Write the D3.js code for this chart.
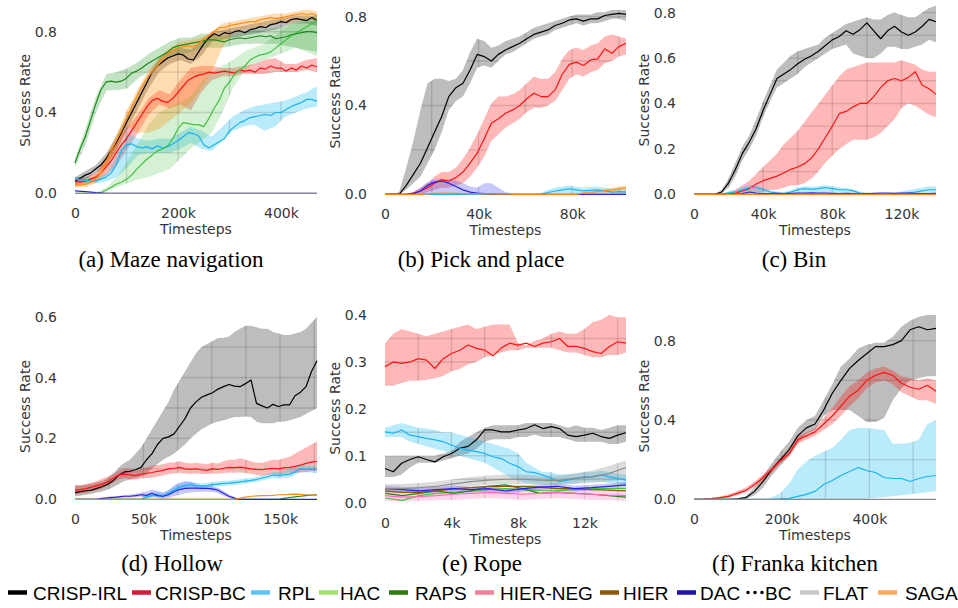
<!DOCTYPE html>
<html>
<head>
<meta charset="utf-8">
<script src="https://cdn.jsdelivr.net/npm/d3@7"></script>
<style>
  body { margin: 0; background: #fff; }
  svg { display: block; }
</style>
</head>
<body>
<svg id="fig" width="958" height="608"></svg>
<script>
// ---- methods ----
const methods = ["CRISP-IRL", "CRISP-BC", "RPL", "HAC", "RAPS", "HIER-NEG", "HIER", "DAC", "BC", "FLAT", "SAGA"];

// ---- tick labels (thousands of timesteps / success rate) ----
const mazeXTicks = [0, 200, 400];
const mazeYTicks = [0, 0.4, 0.8];
const pickXTicks = [0, 40, 80];
const pickYTicks = [0, 0.4, 0.8];
const binXTicks = [0, 40, 80, 120];
const binYTicks = [0, 0.2, 0.4, 0.6, 0.8];
const hollowXTicks = [0, 50, 100, 150];
const hollowYTicks = [0, 0.2, 0.4, 0.6];
const ropeXTicks = [0, 4, 8, 12];
const ropeYTicks = [0, 0.1, 0.2, 0.3, 0.4];
const kitchenXTicks = [0, 200, 400];
const kitchenYTicks = [0, 0.4, 0.8];

// Each series is sampled evenly from 0 to the last timestep of its panel.
// ---- (a) Maze navigation, 0..470k ----
const mazeIrlMean = [0.06,0.075,0.09,0.10,0.12,0.14,0.17,0.21,0.25,0.30,0.35,0.40,0.45,0.50,0.55,0.60,0.63,0.65,0.67,0.68,0.69,0.685,0.665,0.66,0.70,0.74,0.77,0.79,0.78,0.795,0.79,0.80,0.805,0.795,0.81,0.815,0.825,0.82,0.835,0.84,0.85,0.845,0.86,0.865,0.86,0.855,0.87,0.855];
const mazeIrlLow = [0.04,0.07,0.10,0.14,0.22,0.32,0.42,0.52,0.60,0.64,0.66,0.64,0.68,0.75,0.76,0.77,0.78,0.79,0.80,0.81,0.83,0.84,0.84,0.83];
const mazeIrlHigh = [0.08,0.11,0.14,0.20,0.29,0.39,0.49,0.59,0.67,0.71,0.72,0.71,0.75,0.80,0.81,0.82,0.83,0.84,0.85,0.86,0.87,0.88,0.88,0.88];
const mazeBcMean = [0.06,0.055,0.06,0.07,0.08,0.10,0.13,0.16,0.20,0.24,0.27,0.31,0.35,0.39,0.43,0.46,0.47,0.455,0.45,0.47,0.50,0.53,0.56,0.575,0.585,0.59,0.60,0.595,0.60,0.605,0.60,0.595,0.61,0.605,0.61,0.60,0.62,0.615,0.63,0.62,0.62,0.605,0.62,0.61,0.63,0.62,0.635,0.625];
const mazeBcLow = [0.04,0.04,0.06,0.09,0.14,0.22,0.30,0.39,0.44,0.42,0.44,0.41,0.50,0.56,0.58,0.58,0.59,0.59,0.59,0.60,0.60,0.60,0.61,0.60];
const mazeBcHigh = [0.08,0.08,0.10,0.18,0.27,0.33,0.39,0.47,0.51,0.49,0.56,0.62,0.63,0.63,0.62,0.62,0.63,0.64,0.66,0.67,0.64,0.64,0.66,0.67];
const mazeRplMean = [0.07,0.068,0.065,0.06,0.06,0.07,0.08,0.10,0.14,0.21,0.24,0.245,0.23,0.225,0.23,0.22,0.235,0.225,0.23,0.245,0.26,0.28,0.30,0.295,0.285,0.24,0.225,0.24,0.255,0.27,0.31,0.33,0.35,0.36,0.375,0.38,0.385,0.39,0.385,0.40,0.40,0.415,0.43,0.44,0.45,0.465,0.465,0.455];
const mazeRplLow = [0.06,0.05,0.05,0.06,0.08,0.13,0.19,0.20,0.20,0.20,0.22,0.25,0.22,0.21,0.26,0.31,0.33,0.34,0.31,0.33,0.38,0.40,0.42,0.43];
const mazeRplHigh = [0.08,0.08,0.08,0.10,0.19,0.30,0.27,0.26,0.27,0.27,0.30,0.33,0.31,0.28,0.33,0.38,0.41,0.43,0.44,0.45,0.46,0.48,0.50,0.53];
const mazeHacMean = [0,0,0,0,0,0.003,0.015,0.03,0.045,0.055,0.07,0.09,0.12,0.145,0.17,0.19,0.21,0.22,0.235,0.27,0.32,0.35,0.345,0.34,0.34,0.33,0.37,0.42,0.46,0.52,0.55,0.59,0.61,0.63,0.66,0.675,0.685,0.69,0.70,0.72,0.74,0.76,0.78,0.795,0.81,0.825,0.84,0.855];
const mazeHacLow = [0,0,0,0.01,0.03,0.05,0.07,0.08,0.10,0.12,0.17,0.22,0.26,0.30,0.40,0.52,0.60,0.64,0.66,0.68,0.70,0.72,0.70,0.68];
const mazeHacHigh = [0,0,0.005,0.03,0.08,0.16,0.25,0.34,0.40,0.43,0.45,0.48,0.55,0.60,0.63,0.66,0.70,0.72,0.74,0.78,0.82,0.85,0.87,0.88];
const mazeRapsMean = [0.15,0.22,0.28,0.36,0.44,0.51,0.55,0.555,0.55,0.555,0.57,0.595,0.605,0.62,0.64,0.655,0.67,0.685,0.70,0.72,0.73,0.735,0.74,0.745,0.75,0.755,0.76,0.76,0.755,0.75,0.76,0.765,0.77,0.765,0.77,0.775,0.78,0.775,0.78,0.765,0.77,0.775,0.785,0.79,0.795,0.80,0.80,0.795];
const mazeRapsLow = [0.13,0.24,0.40,0.51,0.51,0.52,0.57,0.60,0.64,0.67,0.69,0.70,0.72,0.72,0.72,0.73,0.74,0.74,0.74,0.74,0.73,0.72,0.71,0.70];
const mazeRapsHigh = [0.17,0.32,0.48,0.59,0.60,0.62,0.65,0.69,0.72,0.75,0.77,0.77,0.79,0.79,0.78,0.79,0.80,0.81,0.81,0.82,0.83,0.84,0.85,0.85];
const mazeDacMean = [0.012,0.008,0.003,0,0,0,0,0,0,0,0,0,0,0,0,0,0,0,0,0,0,0,0,0];
const mazeFlatMean = [0, 0];
const mazeSagaMean = [0.04,0.04,0.045,0.055,0.07,0.10,0.15,0.21,0.26,0.31,0.37,0.43,0.48,0.53,0.57,0.60,0.63,0.665,0.69,0.705,0.72,0.725,0.73,0.725,0.74,0.765,0.78,0.80,0.82,0.82,0.83,0.835,0.84,0.845,0.85,0.85,0.86,0.865,0.87,0.865,0.87,0.875,0.88,0.885,0.89,0.885,0.89,0.88];
const mazeSagaLow = [0.03,0.03,0.05,0.12,0.22,0.33,0.30,0.30,0.32,0.36,0.40,0.45,0.52,0.60,0.72,0.79,0.81,0.82,0.83,0.84,0.84,0.85,0.86,0.85];
const mazeSagaHigh = [0.05,0.06,0.09,0.19,0.30,0.42,0.52,0.61,0.67,0.72,0.75,0.76,0.77,0.80,0.84,0.85,0.86,0.87,0.88,0.89,0.89,0.90,0.91,0.90];

// ---- (b) Pick and place, 0..103k ----
const pickIrlMean = [0,0,0,0.04,0.09,0.14,0.21,0.28,0.35,0.44,0.48,0.50,0.56,0.63,0.62,0.60,0.63,0.65,0.665,0.68,0.70,0.72,0.73,0.74,0.76,0.77,0.785,0.79,0.78,0.79,0.79,0.805,0.81,0.815,0.81];
const pickIrlLow = [0,0,0,0.02,0.05,0.08,0.14,0.20,0.28,0.38,0.42,0.44,0.50,0.57,0.58,0.57,0.60,0.63,0.64,0.66,0.68,0.70,0.71,0.72,0.74,0.75,0.76,0.77,0.76,0.77,0.77,0.78,0.79,0.79,0.78];
const pickIrlHigh = [0,0,0.01,0.12,0.24,0.38,0.50,0.52,0.52,0.51,0.52,0.56,0.64,0.70,0.69,0.66,0.67,0.69,0.70,0.71,0.73,0.75,0.76,0.77,0.78,0.79,0.80,0.81,0.81,0.81,0.82,0.82,0.83,0.83,0.83];
const pickBcMean = [0,0,0,0,0.005,0.015,0.03,0.05,0.065,0.06,0.075,0.10,0.14,0.185,0.25,0.32,0.34,0.365,0.38,0.40,0.43,0.455,0.44,0.44,0.47,0.54,0.585,0.595,0.58,0.605,0.61,0.655,0.635,0.665,0.68];
const pickBcLow = [0,0,0,0,0,0,0.01,0.02,0.03,0.03,0.04,0.05,0.08,0.12,0.17,0.24,0.27,0.30,0.32,0.34,0.37,0.39,0.39,0.40,0.42,0.47,0.52,0.54,0.53,0.55,0.56,0.59,0.60,0.62,0.63];
const pickBcHigh = [0,0,0,0,0.01,0.03,0.05,0.08,0.10,0.10,0.12,0.16,0.21,0.27,0.34,0.41,0.44,0.44,0.45,0.47,0.50,0.53,0.52,0.52,0.55,0.61,0.65,0.66,0.65,0.67,0.68,0.71,0.72,0.71,0.70];
const pickRplMean = [0,0,0,0,0,0,0,0,0,0,0,0,0,0,0,0,0,0,0,0,0,0,0,0.008,0.015,0.02,0.025,0.02,0.015,0.018,0.02,0.015,0.01,0.012,0.01];
const pickRplHigh = [0,0,0,0,0,0,0,0,0,0,0,0,0,0,0,0,0,0,0,0,0,0,0.005,0.02,0.03,0.035,0.04,0.035,0.03,0.033,0.035,0.03,0.025,0.027,0.025];
const pickDacMean = [0,0,0,0,0.003,0.015,0.04,0.055,0.06,0.05,0.035,0.02,0.01,0.005,0.003,0.002,0.001,0,0,0,0,0,0,0,0,0,0,0,0,0,0,0,0,0,0];
const pickDacHigh = [0,0,0,0,0.01,0.03,0.055,0.065,0.07,0.068,0.062,0.05,0.035,0.03,0.05,0.05,0.03,0.01,0.004,0,0,0,0,0,0,0,0,0,0,0,0,0,0,0,0];
const pickSagaMean = [0,0,0,0,0,0,0.002,0.004,0.005,0.005,0.004,0.003,0.003,0.002,0.002,0.002,0.001,0.001,0,0,0,0,0,0,0,0,0,0,0.005,0.008,0.012,0.016,0.02,0.025,0.03];
const pickSagaHigh = [0,0,0,0,0,0,0,0,0,0,0,0,0,0,0,0,0,0,0,0,0,0,0,0,0,0,0,0.004,0.01,0.015,0.02,0.025,0.03,0.035,0.04];

// ---- (c) Bin, 0..140k ----
const binIrlMean = [0,0,0,0,0.01,0.05,0.11,0.18,0.23,0.29,0.37,0.44,0.51,0.53,0.55,0.575,0.595,0.61,0.63,0.655,0.68,0.695,0.72,0.705,0.725,0.755,0.72,0.685,0.72,0.74,0.715,0.70,0.715,0.74,0.77,0.76];
const binIrlLow = [0,0,0,0,0.005,0.03,0.08,0.15,0.20,0.26,0.34,0.41,0.47,0.49,0.51,0.53,0.56,0.58,0.60,0.62,0.64,0.65,0.66,0.62,0.61,0.60,0.60,0.62,0.65,0.65,0.64,0.64,0.65,0.66,0.68,0.67];
const binIrlHigh = [0,0,0,0,0.02,0.07,0.14,0.21,0.26,0.33,0.41,0.48,0.55,0.58,0.61,0.63,0.64,0.65,0.66,0.69,0.71,0.73,0.75,0.76,0.77,0.78,0.77,0.77,0.79,0.80,0.79,0.78,0.78,0.80,0.82,0.83];
const binBcMean = [0,0,0,0,0,0.002,0.005,0.015,0.025,0.045,0.06,0.07,0.08,0.095,0.11,0.12,0.135,0.16,0.20,0.25,0.30,0.355,0.365,0.385,0.40,0.40,0.43,0.47,0.50,0.51,0.50,0.515,0.54,0.48,0.465,0.44];
const binBcLow = [0,0,0,0,0,0,0,0,0,0.01,0.01,0.02,0.02,0.03,0.04,0.04,0.05,0.07,0.10,0.14,0.17,0.20,0.22,0.24,0.24,0.24,0.25,0.27,0.30,0.33,0.38,0.40,0.39,0.37,0.35,0.34];
const binBcHigh = [0,0,0,0,0,0.01,0.02,0.04,0.06,0.09,0.12,0.15,0.18,0.22,0.25,0.28,0.32,0.36,0.40,0.44,0.48,0.52,0.55,0.56,0.57,0.58,0.58,0.58,0.58,0.58,0.59,0.58,0.57,0.55,0.54,0.54];
const binRplMean = [0,0,0,0,0,0.005,0.01,0.02,0.03,0.03,0.02,0.01,0.005,0.003,0.01,0.02,0.025,0.022,0.025,0.03,0.025,0.02,0.02,0.015,0.005,0.002,0,0,0,0,0.002,0.005,0.01,0.015,0.02,0.02];
const binRplHigh = [0,0,0,0,0.005,0.012,0.02,0.032,0.042,0.04,0.03,0.02,0.012,0.01,0.018,0.03,0.035,0.033,0.035,0.04,0.035,0.03,0.028,0.022,0.012,0.008,0.005,0.004,0.005,0.008,0.012,0.018,0.024,0.03,0.035,0.035];
const binDacMean = [0,0,0,0,0,0,0,0.003,0.01,0.005,0.003,0.003,0.004,0.003,0.004,0.005,0.005,0.006,0.005,0.005,0.004,0.003,0.004,0.003,0.002,0.003,0.004,0.005,0.005,0.004,0.005,0.005,0.004,0.003,0.003,0.004];
const binSagaMean = [0, 0];

// ---- (d) Hollow, 0..177k ----
const hollowIrlMean = [0.022,0.025,0.028,0.03,0.036,0.042,0.05,0.062,0.08,0.09,0.092,0.097,0.105,0.13,0.15,0.18,0.20,0.205,0.215,0.24,0.265,0.30,0.32,0.335,0.343,0.35,0.362,0.37,0.377,0.372,0.37,0.38,0.392,0.315,0.307,0.30,0.312,0.305,0.31,0.31,0.34,0.352,0.37,0.42,0.455];
const hollowIrlLow = [0.01,0.012,0.015,0.018,0.022,0.026,0.032,0.04,0.05,0.06,0.065,0.07,0.075,0.085,0.10,0.115,0.13,0.14,0.15,0.165,0.18,0.20,0.215,0.23,0.24,0.25,0.255,0.26,0.265,0.27,0.27,0.272,0.27,0.255,0.25,0.25,0.25,0.255,0.255,0.26,0.265,0.27,0.28,0.29,0.30];
const hollowIrlHigh = [0.045,0.045,0.048,0.05,0.055,0.06,0.07,0.085,0.105,0.12,0.13,0.15,0.17,0.20,0.23,0.26,0.29,0.32,0.36,0.39,0.42,0.45,0.48,0.50,0.51,0.52,0.53,0.53,0.535,0.55,0.56,0.57,0.57,0.565,0.56,0.56,0.55,0.545,0.54,0.54,0.545,0.55,0.56,0.58,0.60];
const hollowBcMean = [0.03,0.032,0.035,0.04,0.045,0.05,0.058,0.07,0.08,0.083,0.08,0.078,0.082,0.085,0.088,0.092,0.095,0.10,0.102,0.105,0.10,0.098,0.10,0.097,0.095,0.10,0.098,0.102,0.105,0.104,0.106,0.103,0.10,0.098,0.097,0.10,0.102,0.10,0.104,0.105,0.108,0.112,0.118,0.122,0.125];
const hollowBcLow = [0.015,0.018,0.02,0.025,0.03,0.035,0.045,0.055,0.065,0.07,0.065,0.065,0.068,0.07,0.072,0.075,0.078,0.082,0.085,0.087,0.085,0.083,0.085,0.083,0.082,0.085,0.084,0.086,0.088,0.087,0.088,0.086,0.084,0.08,0.078,0.08,0.082,0.08,0.083,0.085,0.086,0.088,0.09,0.092,0.095];
const hollowBcHigh = [0.045,0.046,0.05,0.055,0.06,0.068,0.075,0.085,0.095,0.10,0.10,0.095,0.10,0.105,0.11,0.112,0.115,0.12,0.122,0.125,0.12,0.118,0.12,0.118,0.115,0.12,0.118,0.125,0.13,0.13,0.135,0.13,0.125,0.12,0.12,0.125,0.13,0.13,0.135,0.14,0.15,0.16,0.17,0.18,0.19];
const hollowRplMean = [0,0,0,0,0,0,0,0,0,0,0,0,0,0.008,0.012,0.015,0.01,0.02,0.03,0.04,0.045,0.048,0.045,0.043,0.045,0.048,0.05,0.052,0.053,0.055,0.057,0.06,0.062,0.065,0.07,0.074,0.08,0.078,0.08,0.082,0.09,0.10,0.098,0.10,0.097];
const hollowRplLow = [0,0,0,0,0,0,0,0,0,0,0,0,0,0.002,0.005,0.008,0.005,0.012,0.022,0.032,0.038,0.04,0.038,0.036,0.038,0.04,0.042,0.044,0.045,0.047,0.049,0.052,0.054,0.057,0.062,0.066,0.07,0.068,0.07,0.072,0.08,0.09,0.088,0.088,0.085];
const hollowRplHigh = [0,0,0,0,0,0,0,0,0,0,0,0,0,0.014,0.02,0.024,0.02,0.03,0.04,0.05,0.055,0.058,0.055,0.052,0.054,0.057,0.059,0.061,0.062,0.064,0.066,0.068,0.07,0.073,0.078,0.083,0.09,0.09,0.095,0.10,0.108,0.115,0.11,0.11,0.108];
const hollowDacMean = [0,0,0,0,0.001,0.003,0.005,0.006,0.008,0.01,0.01,0.012,0.015,0.013,0.02,0.012,0.01,0.015,0.025,0.032,0.036,0.037,0.037,0.036,0.036,0.034,0.03,0.02,0.01,0.004,0,0,0,0,0,0,0,0,0,0,0,0,0,0,0];
const hollowDacLow = [0,0,0,0,0,0,0.002,0.003,0.004,0.006,0.006,0.007,0.008,0.004,0.008,0.004,0.002,0.004,0.01,0.015,0.02,0.022,0.024,0.025,0.026,0.025,0.02,0.012,0.004,0,0,0,0,0,0,0,0,0,0,0,0,0,0,0,0];
const hollowDacHigh = [0,0,0,0,0.002,0.005,0.008,0.01,0.012,0.014,0.015,0.018,0.022,0.025,0.032,0.028,0.022,0.03,0.045,0.055,0.06,0.058,0.05,0.045,0.045,0.042,0.038,0.028,0.016,0.008,0,0,0,0,0,0,0,0,0,0,0,0,0,0,0];
const hollowRapsMean = [0,0,0,0,0,0,0,0,0,0,0,0,0,0,0,0,0,0,0,0,0,0,0,0,0,0,0,0,0,0,0,0,0,0,0,0,0,0,0.003,0.006,0.008,0.01,0.012,0.014,0.015];
const hollowSagaMean = [0,0,0,0,0,0,0,0,0,0,0,0,0,0,0,0,0,0,0,0,0,0,0,0,0,0,0,0,0,0,0.004,0.007,0.01,0.011,0.012,0.012,0.013,0.015,0.015,0.016,0.017,0.016,0.015,0.014,0.014];

// ---- (e) Rope, 0..14.5k ----
const ropeIrlMean = [0.073,0.066,0.084,0.092,0.098,0.092,0.087,0.098,0.105,0.116,0.12,0.134,0.155,0.155,0.151,0.151,0.155,0.158,0.166,0.158,0.162,0.158,0.144,0.141,0.144,0.148,0.141,0.137,0.144,0.149];
const ropeIrlLow = [0.055,0.055,0.06,0.075,0.085,0.085,0.085,0.09,0.095,0.10,0.105,0.115,0.13,0.135,0.135,0.135,0.14,0.14,0.145,0.14,0.14,0.14,0.135,0.13,0.13,0.13,0.13,0.125,0.125,0.13];
const ropeIrlHigh = [0.10,0.10,0.10,0.10,0.10,0.10,0.10,0.105,0.11,0.13,0.14,0.15,0.16,0.165,0.165,0.165,0.165,0.17,0.17,0.17,0.17,0.165,0.16,0.165,0.16,0.16,0.155,0.16,0.165,0.165];
const ropeBcMean = [0.29,0.30,0.297,0.30,0.307,0.304,0.286,0.307,0.318,0.325,0.336,0.329,0.325,0.313,0.33,0.34,0.336,0.34,0.333,0.34,0.343,0.35,0.333,0.333,0.329,0.322,0.318,0.333,0.343,0.34];
const ropeBcLow = [0.25,0.25,0.255,0.26,0.26,0.262,0.265,0.27,0.28,0.285,0.295,0.30,0.31,0.315,0.32,0.325,0.325,0.33,0.33,0.33,0.33,0.325,0.32,0.32,0.315,0.31,0.31,0.315,0.315,0.32];
const ropeBcHigh = [0.34,0.36,0.37,0.365,0.36,0.355,0.36,0.365,0.37,0.375,0.38,0.37,0.375,0.38,0.38,0.38,0.34,0.335,0.345,0.35,0.36,0.365,0.36,0.36,0.37,0.385,0.39,0.40,0.395,0.395];
const ropeRplMean = [0.151,0.148,0.155,0.144,0.141,0.137,0.134,0.13,0.123,0.116,0.112,0.109,0.105,0.098,0.094,0.084,0.077,0.066,0.064,0.059,0.052,0.045,0.048,0.052,0.055,0.055,0.059,0.055,0.052,0.048];
const ropeRplLow = [0.14,0.14,0.14,0.13,0.125,0.12,0.115,0.11,0.105,0.10,0.095,0.09,0.085,0.075,0.065,0.055,0.048,0.042,0.04,0.04,0.04,0.04,0.04,0.042,0.045,0.045,0.045,0.042,0.04,0.04];
const ropeRplHigh = [0.16,0.165,0.17,0.165,0.16,0.158,0.155,0.15,0.15,0.145,0.14,0.135,0.13,0.125,0.12,0.115,0.105,0.085,0.075,0.065,0.065,0.06,0.06,0.062,0.065,0.065,0.068,0.065,0.062,0.06];
const ropeHacMean = [0.01,0.005,0.015,0.02,0.022,0.025,0.028,0.03,0.028,0.026,0.025,0.028,0.03,0.03,0.03];
const ropeRapsMean = [0.02,0.015,0.02,0.025,0.02,0.025,0.035,0.038,0.03,0.02,0.022,0.02,0.018,0.015,0.012];
const ropeHierNegMean = [0.015,0.012,0.013,0.015,0.018,0.02,0.022,0.02,0.018,0.02,0.022,0.02,0.018,0.016,0.015];
const ropeHierNegLow = [0.004,0.003,0.004,0.005,0.006,0.008,0.01,0.008,0.006,0.008,0.01,0.008,0.006,0.005,0.004];
const ropeHierNegHigh = [0.026,0.024,0.025,0.027,0.03,0.032,0.034,0.032,0.03,0.032,0.034,0.032,0.03,0.028,0.026];
const ropeHierMean = [0.025,0.022,0.022,0.025,0.03,0.032,0.035,0.035,0.035,0.033,0.03,0.03,0.028,0.027,0.025];
const ropeDacMean = [0.03,0.028,0.025,0.028,0.03,0.028,0.03,0.025,0.03,0.033,0.035,0.03,0.032,0.035,0.038];
const ropeDacLow = [0.024,0.022,0.019,0.022,0.024,0.022,0.024,0.019,0.024,0.027,0.029,0.024,0.026,0.029,0.032];
const ropeDacHigh = [0.036,0.034,0.031,0.034,0.036,0.034,0.036,0.031,0.036,0.039,0.041,0.036,0.038,0.041,0.044];
const ropeFlatMean = [0.03,0.03,0.032,0.035,0.04,0.045,0.048,0.05,0.05,0.048,0.047,0.052,0.055,0.062,0.075];
const ropeFlatLow = [0.02,0.02,0.022,0.025,0.03,0.035,0.038,0.04,0.04,0.038,0.037,0.04,0.042,0.045,0.05];
const ropeFlatHigh = [0.04,0.04,0.042,0.045,0.05,0.055,0.058,0.06,0.06,0.058,0.058,0.062,0.068,0.078,0.09];

// ---- (f) Franka kitchen, 0..552k ----
const kitchenIrlMean = [0,0,0,0,0,0.002,0.008,0.04,0.09,0.15,0.20,0.25,0.32,0.36,0.38,0.45,0.535,0.60,0.66,0.70,0.735,0.77,0.77,0.78,0.80,0.855,0.87,0.855,0.862];
const kitchenIrlLow = [0,0,0,0,0,0,0.003,0.02,0.06,0.12,0.17,0.22,0.28,0.33,0.35,0.42,0.45,0.45,0.45,0.42,0.39,0.39,0.41,0.50,0.56,0.60,0.61,0.62,0.62];
const kitchenIrlHigh = [0,0,0,0,0,0.004,0.015,0.06,0.12,0.18,0.24,0.29,0.36,0.40,0.42,0.50,0.58,0.67,0.71,0.76,0.78,0.79,0.79,0.82,0.87,0.90,0.92,0.93,0.93];
const kitchenBcMean = [0,0.001,0.003,0.008,0.015,0.03,0.045,0.075,0.11,0.15,0.195,0.23,0.30,0.32,0.34,0.38,0.42,0.47,0.52,0.55,0.60,0.625,0.64,0.625,0.585,0.565,0.555,0.575,0.545];
const kitchenBcLow = [0,0,0,0.002,0.008,0.02,0.035,0.06,0.095,0.135,0.18,0.215,0.28,0.30,0.32,0.35,0.38,0.42,0.47,0.51,0.56,0.59,0.60,0.58,0.54,0.52,0.50,0.50,0.48];
const kitchenBcHigh = [0,0.002,0.006,0.014,0.025,0.04,0.06,0.09,0.125,0.165,0.21,0.245,0.32,0.34,0.36,0.41,0.46,0.52,0.57,0.60,0.64,0.66,0.67,0.65,0.62,0.61,0.60,0.61,0.60];
const kitchenRplMean = [0,0,0,0,0,0,0,0,0,0,0.002,0.005,0.015,0.025,0.04,0.075,0.095,0.12,0.14,0.16,0.145,0.135,0.11,0.105,0.105,0.09,0.105,0.115,0.12];
const kitchenRplLow = [0,0,0,0,0,0,0,0,0,0,0,0,0,0,0,0,0,0,0,0,0.003,0.008,0.012,0.015,0.02,0.025,0.03,0.035,0.04];
const kitchenRplHigh = [0,0,0,0,0,0,0,0,0,0.01,0.03,0.08,0.15,0.19,0.22,0.24,0.26,0.30,0.35,0.36,0.36,0.355,0.35,0.28,0.28,0.285,0.30,0.38,0.40];
const kitchenFlatMean = [0, 0];

// ---- styles ----
const lineColors = ["#000000", "#ff1414", "#18b4f2", "#3fc23f", "#1a8a1a", "#ff6eb4", "#8b5a00", "#2323e6", "#000000", "#8c8c8c", "#ff8c14"];
const bandColors = ["rgba(0,0,0,0.26)", "rgba(255,0,0,0.28)", "rgba(0,180,240,0.27)", "rgba(60,190,60,0.22)", "rgba(20,140,20,0.25)",
                    "rgba(255,105,180,0.28)", "rgba(139,90,0,0.25)", "rgba(50,50,235,0.27)", "rgba(0,0,0,0.2)", "rgba(128,128,128,0.28)", "rgba(255,140,0,0.3)"];
const legendColors = ["#000000", "#d7193a", "#5ec4f4", "#a4e070", "#2e7a10", "#f0819a", "#8a5a0c", "#1f10b0", "#000000", "#c8c8c8", "#fbaa5e"];

const S = (m, mean, low, high) => ({ m, mean, low, high });

const panels = [
  { caption: "(a) Maze navigation", capX: 171, capY: 266.7, x0: 75, x1: 317, yb: 193.3, ppu: 202, xmax: 470, ymax: 0.92,
    xTicks: mazeXTicks, yTicks: mazeYTicks, xGrid: 100, yGrid: 0.2,
    series: [S(0, mazeIrlMean, mazeIrlLow, mazeIrlHigh), S(1, mazeBcMean, mazeBcLow, mazeBcHigh), S(2, mazeRplMean, mazeRplLow, mazeRplHigh),
             S(3, mazeHacMean, mazeHacLow, mazeHacHigh), S(4, mazeRapsMean, mazeRapsLow, mazeRapsHigh), S(7, mazeDacMean),
             S(9, mazeFlatMean), S(10, mazeSagaMean, mazeSagaLow, mazeSagaHigh)] },
  { caption: "(b) Pick and place", capX: 481, capY: 266.7, x0: 385, x1: 626, yb: 194.3, ppu: 222.1, xmax: 103, ymax: 0.83,
    xTicks: pickXTicks, yTicks: pickYTicks, xGrid: 20, yGrid: 0.2,
    series: [S(0, pickIrlMean, pickIrlLow, pickIrlHigh), S(1, pickBcMean, pickBcLow, pickBcHigh), S(2, pickRplMean, [0, 0], pickRplHigh),
             S(7, pickDacMean, [0, 0], pickDacHigh), S(10, pickSagaMean, [0, 0], pickSagaHigh)] },
  { caption: "(c) Bin", capX: 794, capY: 266.7, x0: 694, x1: 936, yb: 194.3, ppu: 227.1, xmax: 140, ymax: 0.83,
    xTicks: binXTicks, yTicks: binYTicks, xGrid: 20, yGrid: 0.1,
    series: [S(0, binIrlMean, binIrlLow, binIrlHigh), S(1, binBcMean, binBcLow, binBcHigh), S(2, binRplMean, [0, 0], binRplHigh),
             S(7, binDacMean), S(10, binSagaMean)] },
  { caption: "(d) Hollow", capX: 172, capY: 571, x0: 75, x1: 317, yb: 499.3, ppu: 304.4, xmax: 177, ymax: 0.61,
    xTicks: hollowXTicks, yTicks: hollowYTicks, xGrid: 25, yGrid: 0.1,
    series: [S(0, hollowIrlMean, hollowIrlLow, hollowIrlHigh), S(1, hollowBcMean, hollowBcLow, hollowBcHigh),
             S(2, hollowRplMean, hollowRplLow, hollowRplHigh), S(4, hollowRapsMean), S(7, hollowDacMean, hollowDacLow, hollowDacHigh),
             S(10, hollowSagaMean)] },
  { caption: "(e) Rope", capX: 482, capY: 571, x0: 385, x1: 626, yb: 502.7, ppu: 469.2, xmax: 14.5, ymax: 0.402,
    xTicks: ropeXTicks, yTicks: ropeYTicks, xGrid: 2, yGrid: 0.05,
    series: [S(0, ropeIrlMean, ropeIrlLow, ropeIrlHigh), S(1, ropeBcMean, ropeBcLow, ropeBcHigh), S(2, ropeRplMean, ropeRplLow, ropeRplHigh),
             S(3, ropeHacMean), S(4, ropeRapsMean), S(5, ropeHierNegMean, ropeHierNegLow, ropeHierNegHigh), S(6, ropeHierMean),
             S(7, ropeDacMean, ropeDacLow, ropeDacHigh), S(9, ropeFlatMean, ropeFlatLow, ropeFlatHigh)] },
  { caption: "(f) Franka kitchen", capX: 795, capY: 571, x0: 694, x1: 936, yb: 499.3, ppu: 198.3, xmax: 552, ymax: 0.94,
    xTicks: kitchenXTicks, yTicks: kitchenYTicks, xGrid: 100, yGrid: 0.2,
    series: [S(0, kitchenIrlMean, kitchenIrlLow, kitchenIrlHigh), S(1, kitchenBcMean, kitchenBcLow, kitchenBcHigh),
             S(2, kitchenRplMean, kitchenRplLow, kitchenRplHigh), S(9, kitchenFlatMean)] }
];

const svg = d3.select("#fig");
const defs = svg.append("defs");
const tickFont = "'DejaVu Sans', sans-serif";

panels.forEach((p, pi) => {
  const x = d3.scaleLinear().domain([0, p.xmax]).range([p.x0, p.x1]);
  const y = d3.scaleLinear().domain([0, p.ymax]).range([p.yb, p.yb - p.ymax * p.ppu]);
  const pts = arr => arr.map((v, i) => [x(i * p.xmax / (arr.length - 1)), y(v)]);
  const line = d3.line();
  const bandPath = s => line(pts(s.high).concat(pts(s.low).reverse())) + "Z";
  const banded = p.series.filter(s => s.low && s.high);

  const g = svg.append("g").attr("class", "panel");

  // confidence bands
  g.append("g").selectAll("path").data(banded).join("path")
    .attr("d", bandPath).attr("fill", s => bandColors[s.m]).attr("stroke", "none");

  // grid lines, only visible where a band is drawn
  const clipId = "bands" + pi;
  defs.append("clipPath").attr("id", clipId)
    .selectAll("path").data(banded).join("path").attr("d", bandPath);
  const grid = g.append("g").attr("clip-path", `url(#${clipId})`)
    .attr("stroke", "rgba(0,0,0,0.13)").attr("stroke-width", 1.4);
  const gx = d3.range(p.xGrid, p.xmax, p.xGrid);
  const gy = d3.range(p.yGrid, p.ymax, p.yGrid);
  grid.selectAll("line.v").data(gx).join("line").attr("class", "v")
    .attr("x1", d => x(d)).attr("x2", d => x(d)).attr("y1", y(0)).attr("y2", y(p.ymax));
  grid.selectAll("line.h").data(gy).join("line").attr("class", "h")
    .attr("x1", p.x0).attr("x2", p.x1).attr("y1", d => y(d)).attr("y2", d => y(d));

  // mean curves
  g.append("g").selectAll("path").data(p.series).join("path")
    .attr("d", s => line(pts(s.mean))).attr("fill", "none")
    .attr("stroke", s => lineColors[s.m]).attr("stroke-width", 1.2).attr("stroke-linejoin", "round");

  // axes
  const xAxis = d3.axisBottom(x).tickValues(p.xTicks).tickSize(0).tickPadding(15)
    .tickFormat(d => d === 0 ? "0" : d + "k");
  const yAxis = d3.axisLeft(y).tickValues(p.yTicks).tickSize(0).tickPadding(18)
    .tickFormat(d3.format(".1f"));
  const ax = g.append("g").attr("transform", `translate(0,${p.yb})`).call(xAxis);
  const ay = g.append("g").attr("transform", `translate(${p.x0},0)`).call(yAxis);
  [ax, ay].forEach(a => {
    a.select(".domain").remove();
    a.selectAll("text").attr("font-family", tickFont).attr("font-size", 14).attr("fill", "#363636");
  });

  g.append("text").attr("x", (p.x0 + p.x1) / 2).attr("y", p.yb + 41)
    .attr("text-anchor", "middle").attr("font-family", tickFont).attr("font-size", 14).attr("fill", "#363636")
    .text("Timesteps");
  g.append("text").attr("transform", `translate(${p.x0 - 45.5},${(p.yb + y(p.ymax)) / 2}) rotate(-90)`)
    .attr("text-anchor", "middle").attr("font-family", tickFont).attr("font-size", 14).attr("fill", "#363636")
    .text("Success Rate");

  // caption
  svg.append("text").attr("x", p.capX).attr("y", p.capY).attr("text-anchor", "middle")
    .attr("font-family", "'Liberation Serif', 'Times New Roman', serif").attr("font-size", 23).attr("fill", "#000")
    .text(p.caption);
});

// ---- legend ----
const legendSwatchX = [8, 132, 251, 319, 389, 475, 600, 677, 746, 800, 878];
const legendTextX = [33, 155, 278, 340, 415, 500, 623, 700, 765, 823, 905];
const legend = svg.append("g").attr("class", "legend");
methods.forEach((name, i) => {
  const sx = legendSwatchX[i];
  if (name === "BC") {
    legend.append("line").attr("x1", sx + 2).attr("x2", sx + 17).attr("y1", 592.5).attr("y2", 592.5)
      .attr("stroke", legendColors[i]).attr("stroke-width", 3.6).attr("stroke-linecap", "round")
      .attr("stroke-dasharray", "0 7");
  } else {
    legend.append("line").attr("x1", sx).attr("x2", sx + 19).attr("y1", 592.5).attr("y2", 592.5)
      .attr("stroke", legendColors[i]).attr("stroke-width", 4.5);
  }
  legend.append("text").attr("x", legendTextX[i]).attr("y", 600)
    .attr("font-family", "'Liberation Sans', Arial, sans-serif").attr("font-size", 19).attr("fill", "#000")
    .text(name);
});
</script>
</body>
</html>
